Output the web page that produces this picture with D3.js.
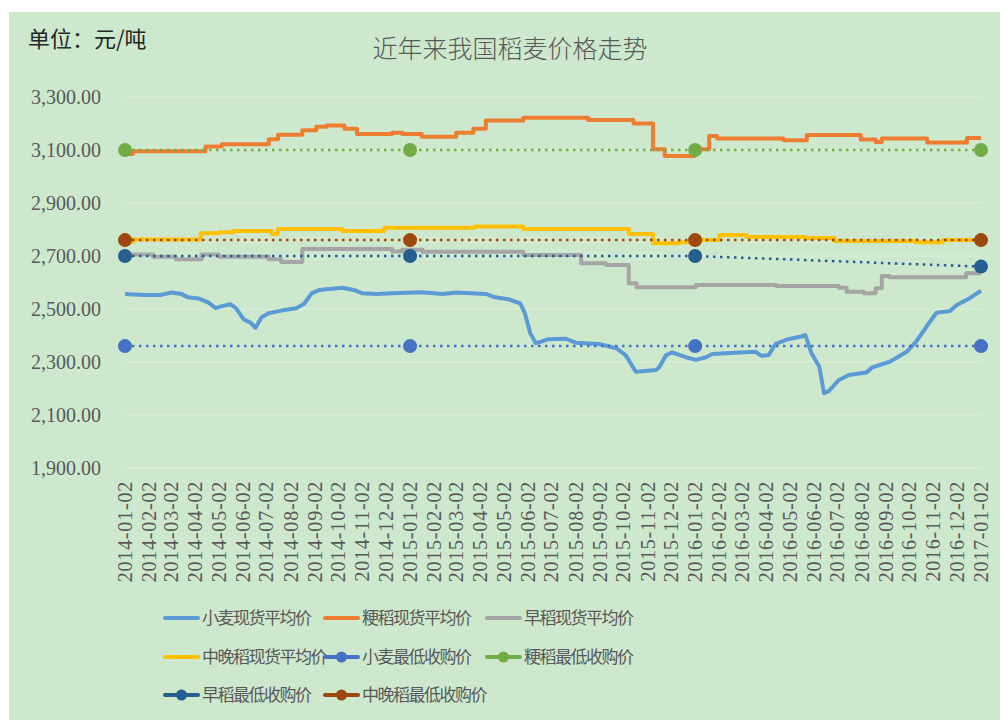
<!DOCTYPE html>
<html>
<head>
<meta charset="utf-8">
<script src="https://cdn.jsdelivr.net/npm/d3@7"></script>
<style>
  body { margin: 0; background: #fff; }
  svg { display: block; }
</style>
</head>
<body>
<svg id="chart"></svg>
<script>
// 近年来我国稻麦价格走势

// x-axis labels (monthly)
const tickLabels = [
  '2014-01-02','2014-02-02','2014-03-02','2014-04-02','2014-05-02','2014-06-02',
  '2014-07-02','2014-08-02','2014-09-02','2014-10-02','2014-11-02','2014-12-02',
  '2015-01-02','2015-02-02','2015-03-02','2015-04-02','2015-05-02','2015-06-02',
  '2015-07-02','2015-08-02','2015-09-02','2015-10-02','2015-11-02','2015-12-02',
  '2016-01-02','2016-02-02','2016-03-02','2016-04-02','2016-05-02','2016-06-02',
  '2016-07-02','2016-08-02','2016-09-02','2016-10-02','2016-11-02','2016-12-02',
  '2017-01-02'
];
const yTicks = [1900, 2100, 2300, 2500, 2700, 2900, 3100, 3300];

// 小麦现货平均价
const wheatDates = [
  '2014-01-02','2014-01-25','2014-02-16','2014-03-03','2014-03-15','2014-03-24',
  '2014-04-06','2014-04-19','2014-04-28','2014-05-05','2014-05-17','2014-05-24',
  '2014-06-03','2014-06-12','2014-06-18','2014-06-26','2014-07-05','2014-07-21',
  '2014-08-09','2014-08-19','2014-08-29','2014-09-08','2014-10-07','2014-10-22',
  '2014-11-02','2014-11-20','2014-12-10','2015-01-17','2015-02-13','2015-03-02',
  '2015-04-09','2015-04-21','2015-05-08','2015-05-23','2015-05-29','2015-06-05',
  '2015-06-12','2015-06-19','2015-06-28','2015-07-20','2015-08-02','2015-09-01',
  '2015-09-23','2015-10-05','2015-10-18','2015-11-13','2015-11-17','2015-11-26',
  '2015-12-03','2015-12-21','2016-01-03','2016-01-16','2016-01-24','2016-02-28',
  '2016-03-19','2016-03-27','2016-04-05','2016-04-14','2016-04-30','2016-05-17',
  '2016-05-22','2016-05-30','2016-06-09','2016-06-15','2016-06-21','2016-07-04',
  '2016-07-17','2016-08-08','2016-08-16','2016-09-07','2016-09-29','2016-10-11',
  '2016-10-24','2016-11-06','2016-11-23','2016-12-02','2016-12-18','2017-01-02'
];
const wheatPrices = [
  2557, 2553, 2553, 2562, 2557, 2544,
  2540, 2524, 2503, 2510, 2518, 2503,
  2461, 2448, 2429, 2469, 2484, 2494,
  2503, 2519, 2559, 2572, 2580, 2572,
  2559, 2557, 2559, 2563, 2557, 2562,
  2557, 2544, 2537, 2521, 2484, 2408,
  2371, 2377, 2386, 2388, 2373, 2368,
  2352, 2326, 2263, 2270, 2280, 2326,
  2336, 2318, 2308, 2318, 2330, 2336,
  2339, 2323, 2326, 2368, 2386, 2396,
  2402, 2333, 2282, 2182, 2190, 2232,
  2251, 2260, 2280, 2301, 2339, 2377,
  2433, 2486, 2492, 2515, 2540, 2569
];

// 粳稻现货平均价 (step changes)
const japonicaDates = [
  '2014-01-02','2014-01-12','2014-04-15','2014-05-06','2014-07-05','2014-07-17',
  '2014-08-17','2014-09-04','2014-09-17','2014-10-10','2014-10-26','2014-12-10',
  '2014-12-23','2015-01-17','2015-03-02','2015-03-24','2015-04-09','2015-05-27',
  '2015-08-18','2015-10-15','2015-11-09','2015-11-24','2016-01-01','2016-01-20',
  '2016-01-30','2016-04-24','2016-05-24','2016-08-01','2016-08-20','2016-08-28',
  '2016-10-25','2016-12-15','2017-01-02'
];
const japonicaPrices = [
  3085, 3095, 3113, 3122, 3141, 3158,
  3175, 3188, 3192, 3180, 3160, 3165,
  3160, 3150, 3165, 3180, 3211, 3222,
  3213, 3200, 3103, 3077, 3103, 3153,
  3143, 3137, 3157, 3140, 3130, 3143,
  3128, 3145, 3145
];

// 早稻现货平均价 (step changes)
const earlyDates = [
  '2014-01-02','2014-02-07','2014-03-08','2014-04-10','2014-05-02','2014-07-05',
  '2014-07-21','2014-08-17','2014-12-10','2014-12-23','2015-01-18','2015-05-27',
  '2015-08-09','2015-09-10','2015-10-09','2015-10-19','2016-01-03','2016-04-15',
  '2016-07-04','2016-07-14','2016-08-05','2016-08-20','2016-08-28','2016-09-07',
  '2016-12-14','2017-01-02'
];
const earlyPrices = [
  2706, 2697, 2688, 2706, 2697, 2688,
  2677, 2726, 2717, 2724, 2716, 2704,
  2673, 2666, 2597, 2582, 2591, 2587,
  2580, 2565, 2559, 2578, 2625, 2620,
  2635, 2635
];

// 中晚稻现货平均价 (step changes)
const midLateDates = [
  '2014-01-02','2014-01-12','2014-04-09','2014-05-02','2014-05-21','2014-07-09',
  '2014-07-17','2014-10-07','2014-11-30','2015-03-26','2015-05-27','2015-10-09',
  '2015-11-09','2015-12-12','2016-01-07','2016-02-02','2016-03-08','2016-05-22',
  '2016-06-28','2016-10-11','2016-11-14','2017-01-02'
];
const midLatePrices = [
  2754, 2762, 2786, 2790, 2794, 2783,
  2802, 2794, 2807, 2811, 2802, 2783,
  2748, 2752, 2760, 2779, 2772, 2768,
  2757, 2752, 2760, 2760
];

// 最低收购价
const minDates = ['2014-01-02', '2015-01-02', '2016-01-02', '2017-01-02'];
const wheatMin = [2360, 2360, 2360, 2360];
const japonicaMin = [3100, 3100, 3100, 3100];
const earlyMin = [2700, 2700, 2700, 2660];
const midLateMin = [2760, 2760, 2760, 2760];

const parse = d3.timeParse('%Y-%m-%d');
const zip = (dates, vals) => dates.map((d, i) => ({ date: parse(d), value: vals[i] }));

const spotSeries = [
  { name: '小麦现货平均价', color: '#5B9BD5', curve: d3.curveLinear, values: zip(wheatDates, wheatPrices) },
  { name: '粳稻现货平均价', color: '#ED7D31', curve: d3.curveStepAfter, values: zip(japonicaDates, japonicaPrices) },
  { name: '早稻现货平均价', color: '#A5A5A5', curve: d3.curveStepAfter, values: zip(earlyDates, earlyPrices) },
  { name: '中晚稻现货平均价', color: '#FFC000', curve: d3.curveStepAfter, values: zip(midLateDates, midLatePrices) }
];
const minSeries = [
  { name: '小麦最低收购价', color: '#4472C4', values: zip(minDates, wheatMin) },
  { name: '粳稻最低收购价', color: '#70AD47', values: zip(minDates, japonicaMin) },
  { name: '早稻最低收购价', color: '#255E91', values: zip(minDates, earlyMin) },
  { name: '中晚稻最低收购价', color: '#9E480E', values: zip(minDates, midLateMin) }
];

const width = 1000;
const height = 720;
const cjk = '"Noto Sans CJK SC", "Noto Sans", sans-serif';
const serif = '"Liberation Serif", "DejaVu Serif", serif';

const svg = d3.select('#chart')
  .attr('width', width)
  .attr('height', height);

// background panel
svg.append('rect')
  .attr('x', 9)
  .attr('y', 12)
  .attr('width', width - 9)
  .attr('height', height - 12)
  .style('fill', '#cde8cd');

const xScale = d3.scaleTime()
  .domain([parse('2014-01-02'), parse('2017-01-02')])
  .range([125, 981]);

const yScale = d3.scaleLinear()
  .domain([1900, 3300])
  .range([468, 97]);

// grid lines
svg.append('g')
  .attr('class', 'grid')
  .selectAll('line')
  .data(yTicks)
  .enter()
  .append('line')
  .attr('x1', 125)
  .attr('x2', 982)
  .attr('y1', d => yScale(d))
  .attr('y2', d => yScale(d))
  .style('stroke', '#dcefdb')
  .style('stroke-width', 1);

// y axis labels
svg.append('g')
  .attr('class', 'y-axis')
  .selectAll('text')
  .data(yTicks)
  .enter()
  .append('text')
  .attr('x', 101)
  .attr('y', d => yScale(d))
  .attr('dy', '0.35em')
  .attr('text-anchor', 'end')
  .style('font-family', serif)
  .style('font-size', '20px')
  .style('fill', '#595959')
  .text(d => d3.format(',.2f')(d));

// x axis labels, rotated
svg.append('g')
  .attr('class', 'x-axis')
  .selectAll('text')
  .data(tickLabels)
  .enter()
  .append('text')
  .attr('transform', d => `translate(${xScale(parse(d))},481) rotate(-90)`)
  .attr('dy', '0.35em')
  .attr('text-anchor', 'end')
  .style('font-family', serif)
  .style('font-size', '20px')
  .style('letter-spacing', '0.8px')
  .style('fill', '#595959')
  .text(d => d);

// spot price lines
spotSeries.forEach(s => {
  const line = d3.line()
    .x(d => xScale(d.date))
    .y(d => yScale(d.value))
    .curve(s.curve);
  svg.append('path')
    .attr('d', line(s.values))
    .style('fill', 'none')
    .style('stroke', s.color)
    .style('stroke-width', 4)
    .style('stroke-linejoin', 'round');
});

// minimum purchase price lines: dotted with markers
const minLine = d3.line()
  .x(d => xScale(d.date))
  .y(d => yScale(d.value));

minSeries.forEach(s => {
  svg.append('path')
    .attr('d', minLine(s.values))
    .style('fill', 'none')
    .style('stroke', s.color)
    .style('stroke-width', 2.5)
    .style('stroke-dasharray', '2.5,4.5');
  svg.append('g')
    .selectAll('circle')
    .data(s.values)
    .enter()
    .append('circle')
    .attr('cx', d => xScale(d.date))
    .attr('cy', d => yScale(d.value))
    .attr('r', 7)
    .style('fill', s.color);
});

// unit and title
svg.append('text')
  .attr('x', 28)
  .attr('y', 47)
  .style('font-family', cjk)
  .style('font-size', '22px')
  .style('fill', '#262626')
  .text('单位：元/吨');

svg.append('text')
  .attr('x', 510)
  .attr('y', 58)
  .attr('text-anchor', 'middle')
  .style('font-family', cjk)
  .style('font-size', '25px')
  .style('font-weight', 300)
  .style('fill', '#595959')
  .text('近年来我国稻麦价格走势');

// legend
const legendItems = spotSeries.map(s => ({ name: s.name, color: s.color, marker: false }))
  .concat(minSeries.map(s => ({ name: s.name, color: s.color, marker: true })));
const legendCols = [165, 325, 487];
const legendRows = [618, 657, 695];

const legend = svg.append('g')
  .attr('class', 'legend')
  .selectAll('g')
  .data(legendItems)
  .enter()
  .append('g')
  .attr('transform', (d, i) => `translate(${legendCols[i % 3]},${legendRows[Math.floor(i / 3)]})`);

legend.append('line')
  .attr('x1', 0)
  .attr('x2', 33)
  .style('stroke', d => d.color)
  .style('stroke-width', 4)
  .style('stroke-linecap', 'round');

legend.filter(d => d.marker)
  .append('circle')
  .attr('cx', 16.5)
  .attr('r', 5.5)
  .style('fill', d => d.color);

legend.append('text')
  .attr('x', 37)
  .attr('dy', '0.36em')
  .style('font-family', cjk)
  .style('font-size', '17px')
  .style('letter-spacing', '-1.5px')
  .style('fill', '#595959')
  .text(d => d.name);
</script>
</body>
</html>
